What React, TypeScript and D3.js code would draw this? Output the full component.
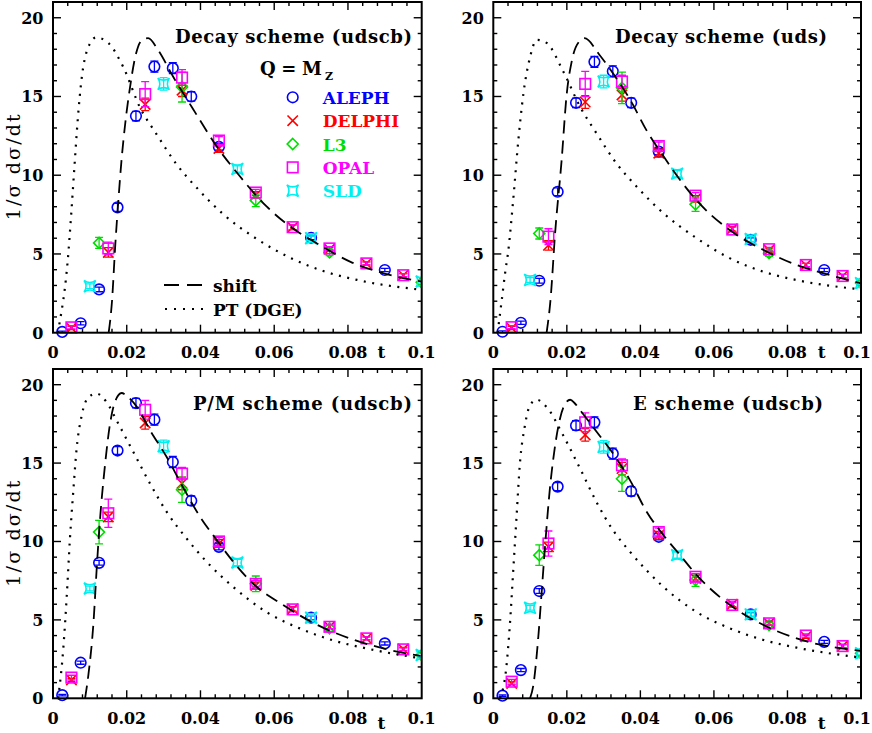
import React from "react";
import * as d3 from "d3";

// ---------- data ----------
const EXPERIMENTS = ["ALEPH", "DELPHI", "L3", "OPAL", "SLD"];
const COLORS = ["#0000ff", "#ff0000", "#00dd00", "#ff00ff", "#00f0f0"];
const TITLES = ["Decay scheme (udscb)", "Decay scheme (uds)", "P/M scheme (udscb)", "E scheme (udscb)"];
const X_TICKS = [0, 0.02, 0.04, 0.06, 0.08, 0.1];
const X_TICK_LABELS = ["0", "0.02", "0.04", "0.06", "0.08", "0.1"];
const Y_TICKS = [0, 5, 10, 15, 20];
const Y_TICK_LABELS = ["0", "5", "10", "15", "20"];

const T_ALEPH = [0.0025, 0.0075, 0.0125, 0.0175, 0.0225, 0.0275, 0.0325, 0.0375, 0.045, 0.07, 0.09];
const T_DELPHI = [0.005, 0.015, 0.025, 0.035, 0.045, 0.055, 0.065, 0.075, 0.085, 0.095];
const T_L3 = [0.0125, 0.035, 0.055, 0.075, 0.1];
const T_OPAL = [0.005, 0.015, 0.025, 0.035, 0.045, 0.055, 0.065, 0.075, 0.085, 0.095];
const T_SLD = [0.01, 0.03, 0.05, 0.07, 0.1];

const ERR_ALEPH = [0.05, 0.1, 0.15, 0.25, 0.3, 0.35, 0.35, 0.3, 0.2, 0.12, 0.1];
const ERR_DELPHI = [0.1, 0.3, 0.4, 0.4, 0.25, 0.2, 0.15, 0.12, 0.1, 0.1];
const ERR_SLD = [0.15, 0.4, 0.2, 0.15, 0.1];

// Panel 1: Decay scheme (udscb)
const P1_ALEPH = [0.05, 0.6, 2.75, 7.96, 13.76, 16.9, 16.8, 15.0, 11.8, 6.03, 3.98];
const P1_DELPHI = [0.3, 5.1, 14.5, 15.4, 11.7, 8.75, 6.7, 5.3, 4.4, 3.65];
const P1_L3 = [5.7, 15.6, 8.4, 5.1, 3.2];
const P1_L3_ERR = [0.35, 0.95, 0.4, 0.2, 0.15];
const P1_OPAL = [0.34, 5.35, 15.15, 16.2, 12.2, 8.9, 6.7, 5.35, 4.4, 3.65];
const P1_OPAL_ERR = [0.1, 0.4, 0.8, 0.5, 0.25, 0.2, 0.15, 0.12, 0.1, 0.1];
const P1_SLD = [2.95, 15.8, 10.4, 6.0, 3.25];
const P1_PT = [[0.0013, 0], [0.0022, 1.2], [0.0031, 2.6], [0.004, 4.6], [0.0049, 7.4], [0.0058, 10.5], [0.0067, 13.5], [0.0078, 16.2], [0.0092, 17.9], [0.0117, 18.75], [0.015, 18.4], [0.019, 16.9], [0.0236, 14.3], [0.0281, 12.6], [0.0335, 10.7], [0.039, 9.2], [0.0463, 7.5], [0.0553, 5.95], [0.0644, 4.75], [0.0735, 3.9], [0.0825, 3.35], [0.1, 2.72]];
const P1_SHIFT = [[0.0151, 0], [0.016, 2.0], [0.0169, 5.6], [0.0177, 8.3], [0.0186, 11.0], [0.0196, 13.3], [0.0209, 15.6], [0.0222, 17.4], [0.024, 18.55], [0.0258, 18.7], [0.0285, 17.95], [0.0326, 16.25], [0.0376, 14.35], [0.0445, 11.8], [0.0508, 9.9], [0.058, 8.0], [0.0652, 6.6], [0.0716, 5.67], [0.0807, 4.5], [0.0897, 3.77], [0.1, 3.24]];

// Panel 2: Decay scheme (uds)
const P2_ALEPH = [0.06, 0.63, 3.3, 8.95, 14.6, 17.2, 16.6, 14.6, 11.5, 5.9, 3.98];
const P2_DELPHI = [0.3, 5.55, 14.65, 15.1, 11.4, 8.5, 6.6, 5.25, 4.3, 3.6];
const P2_L3 = [6.3, 15.55, 8.15, 5.05, 3.15];
const P2_L3_ERR = [0.35, 1.0, 0.45, 0.2, 0.15];
const P2_OPAL = [0.35, 6.1, 15.8, 15.95, 11.85, 8.7, 6.55, 5.3, 4.3, 3.6];
const P2_OPAL_ERR = [0.1, 0.5, 0.8, 0.4, 0.25, 0.2, 0.15, 0.12, 0.1, 0.1];
const P2_SLD = [3.35, 15.95, 10.1, 5.95, 3.15];
const P2_PT = [[0.0012, 0], [0.0014, 0.4], [0.0023, 2.07], [0.0032, 3.77], [0.0041, 5.25], [0.0054, 8.4], [0.0068, 12.2], [0.0082, 15.2], [0.01, 17.5], [0.0118, 18.6], [0.0145, 18.4], [0.019, 16.6], [0.0236, 14.35], [0.0281, 12.65], [0.0335, 10.75], [0.039, 9.27], [0.0463, 7.58], [0.0553, 6.0], [0.0644, 4.72], [0.0735, 3.87], [0.0825, 3.34], [0.1, 2.75]];
const P2_SHIFT = [[0.0145, 0], [0.0156, 2.2], [0.0168, 6.3], [0.0186, 11.0], [0.0199, 15.0], [0.0213, 17.2], [0.0236, 18.55], [0.0248, 18.7], [0.029, 17.6], [0.0335, 16.15], [0.0372, 14.8], [0.0418, 12.8], [0.0463, 11.2], [0.0508, 9.7], [0.0553, 8.4], [0.0644, 6.5], [0.0735, 5.25], [0.0825, 4.3], [0.0916, 3.66], [0.1, 3.13]];

// Panel 3: P/M scheme (udscb)
const P3_ALEPH = [0.2, 2.27, 8.64, 15.8, 18.83, 17.77, 15.07, 12.6, 9.66, 5.14, 3.5];
const P3_DELPHI = [1.17, 11.57, 17.56, 13.7, 9.87, 7.2, 5.7, 4.56, 3.82, 3.14];
const P3_L3 = [10.6, 13.3, 7.3, 4.46, 2.76];
const P3_L3_ERR = [0.75, 0.8, 0.5, 0.2, 0.15];
const P3_OPAL = [1.32, 11.8, 18.4, 14.33, 10.0, 7.3, 5.67, 4.56, 3.82, 3.12];
const P3_OPAL_ERR = [0.15, 0.9, 0.6, 0.4, 0.25, 0.2, 0.15, 0.12, 0.1, 0.1];
const P3_SLD = [7.0, 16.07, 8.66, 5.14, 2.76];
const P3_PT = [[0.0014, 0], [0.0028, 3.2], [0.0037, 6.4], [0.0046, 10.2], [0.0055, 13.2], [0.0064, 15.9], [0.0078, 18.05], [0.0096, 19.2], [0.0118, 19.43], [0.0145, 18.9], [0.0173, 17.7], [0.0218, 15.7], [0.0263, 13.7], [0.0308, 11.9], [0.0362, 10.2], [0.0417, 8.7], [0.0489, 7.1], [0.0579, 5.5], [0.0669, 4.46], [0.0759, 3.7], [0.085, 3.18], [0.0997, 2.55]];
const P3_SHIFT = [[0.0087, 0], [0.0096, 1.5], [0.011, 4.9], [0.0118, 8.07], [0.0127, 11.25], [0.0141, 14.86], [0.0154, 17.4], [0.0168, 18.9], [0.0186, 19.47], [0.0204, 19.2], [0.0227, 18.6], [0.0263, 17.1], [0.0308, 15.4], [0.0354, 13.4], [0.0399, 11.57], [0.0444, 10.1], [0.0489, 8.7], [0.0543, 7.3], [0.0624, 5.95], [0.0715, 4.7], [0.0805, 3.82], [0.0896, 3.18], [0.0997, 2.7]];

// Panel 4: E scheme (udscb)
const P4_ALEPH = [0.17, 1.8, 6.84, 13.5, 17.4, 17.6, 15.6, 13.2, 10.3, 5.35, 3.6];
const P4_DELPHI = [0.95, 9.66, 16.8, 14.65, 10.4, 7.64, 6.0, 4.78, 3.93, 3.33];
const P4_L3 = [9.13, 14.0, 7.54, 4.67, 2.87];
const P4_L3_ERR = [0.65, 0.8, 0.4, 0.2, 0.15];
const P4_OPAL = [1.06, 9.87, 17.6, 14.86, 10.6, 7.75, 5.95, 4.78, 4.0, 3.33];
const P4_OPAL_ERR = [0.15, 0.8, 0.6, 0.4, 0.25, 0.2, 0.15, 0.12, 0.1, 0.1];
const P4_SLD = [5.77, 16.03, 9.13, 5.35, 2.87];
const P4_PT = [[0.0018, 0], [0.0036, 2.1], [0.0045, 4.67], [0.0054, 8.07], [0.0063, 11.5], [0.0072, 14.86], [0.0086, 17.4], [0.01, 18.7], [0.0118, 19.04], [0.0145, 18.58], [0.019, 16.77], [0.0236, 14.65], [0.0281, 12.5], [0.0326, 10.7], [0.0372, 9.34], [0.0463, 7.1], [0.0553, 5.5], [0.0644, 4.46], [0.0735, 3.72], [0.0825, 3.23], [0.1, 2.6]];
const P4_SHIFT = [[0.01, 0], [0.0109, 0.85], [0.0122, 3.8], [0.0131, 6.6], [0.0141, 9.77], [0.0154, 13.4], [0.0168, 16.1], [0.0181, 17.8], [0.0199, 18.9], [0.0209, 19.04], [0.0222, 18.8], [0.024, 18.26], [0.0281, 17.0], [0.0326, 15.6], [0.0372, 13.9], [0.0417, 11.9], [0.0463, 10.4], [0.0508, 9.13], [0.0553, 7.86], [0.0644, 5.95], [0.0735, 4.67], [0.0825, 3.82], [0.1, 3.02]];

// ---------- drawing ----------
const FONT = "'DejaVu Serif', serif";

function Marker({ kind, cx, cy, color }: { kind: number; cx: number; cy: number; color: string }) {
  const sw = 1.6;
  if (kind === 0) return <circle cx={cx} cy={cy} r={5.3} fill="none" stroke={color} strokeWidth={sw} />;
  if (kind === 1) {
    const s = 5.2;
    return <path d={`M${cx - s},${cy - s}L${cx + s},${cy + s}M${cx - s},${cy + s}L${cx + s},${cy - s}`} stroke={color} strokeWidth={sw} fill="none" />;
  }
  if (kind === 2) {
    const s = 5.5;
    return <path d={`M${cx},${cy - s}L${cx + s},${cy}L${cx},${cy + s}L${cx - s},${cy}Z`} stroke={color} strokeWidth={sw} fill="none" />;
  }
  if (kind === 3) {
    const s = 5.3;
    return <rect x={cx - s} y={cy - s} width={2 * s} height={2 * s} stroke={color} strokeWidth={sw} fill="none" />;
  }
  const s = 5.8;
  const k = 0.3 * s;
  return (
    <path
      d={`M${cx - s},${cy - s}Q${cx},${cy - k} ${cx + s},${cy - s}Q${cx + k},${cy} ${cx + s},${cy + s}Q${cx},${cy + k} ${cx - s},${cy + s}Q${cx - k},${cy} ${cx - s},${cy - s}Z`}
      stroke={color}
      strokeWidth={sw}
      fill="none"
    />
  );
}

type SeriesSet = { t: number[]; v: number[]; e: number[] }[];

function Panel(props: {
  id: string;
  x0: number;
  x1: number;
  yTop: number;
  yBase: number;
  title: string;
  titleX: number;
  titleLen: number;
  series: SeriesSet;
  pt: number[][];
  shift: number[][];
  yLabel: boolean;
  legend: boolean;
  tDy: number;
}) {
  const { id, x0, x1, yTop, yBase } = props;
  const x = d3.scaleLinear().domain([0, 0.1]).range([x0, x1]);
  const y = d3.scaleLinear().domain([0, 21]).range([yBase, yTop]);
  const xMinor = d3.range(0, 0.1001, 0.004).filter((v) => v > 0.0005 && v < 0.0995);
  const yMinor = d3.range(1, 21, 1);
  const line = d3
    .line<number[]>()
    .x((d) => x(d[0]))
    .y((d) => y(d[1]))
    .curve(d3.curveMonotoneX);
  const tickStroke = { stroke: "#000", strokeWidth: 1.4 };
  const ticks: JSX.Element[] = [];
  xMinor.forEach((v, i) => {
    const major = Math.abs(v / 0.02 - Math.round(v / 0.02)) < 1e-6;
    const L = major ? 8 : 4;
    ticks.push(<line key={`xb${i}`} x1={x(v)} x2={x(v)} y1={yBase} y2={yBase - L} {...tickStroke} />);
    ticks.push(<line key={`xt${i}`} x1={x(v)} x2={x(v)} y1={yTop} y2={yTop + L} {...tickStroke} />);
  });
  yMinor.forEach((v, i) => {
    const L = v % 5 === 0 ? 8 : 4;
    ticks.push(<line key={`yl${i}`} x1={x0} x2={x0 + L} y1={y(v)} y2={y(v)} {...tickStroke} />);
    ticks.push(<line key={`yr${i}`} x1={x1} x2={x1 - L} y1={y(v)} y2={y(v)} {...tickStroke} />);
  });

  return (
    <g>
      <defs>
        <clipPath id={`clip-${id}`}>
          <rect x={x0 - 20} y={yTop - 20} width={x1 - x0 + 20} height={yBase - yTop + 40} />
        </clipPath>
        <clipPath id={`clipc-${id}`}>
          <rect x={x0} y={yTop} width={x1 - x0} height={yBase - yTop} />
        </clipPath>
      </defs>
      {ticks}
      <g clipPath={`url(#clip-${id})`}>
        {props.series.map((s, k) =>
          s.t.map((t, i) => {
            const cx = x(t);
            const cy = y(s.v[i]);
            const lo = y(s.v[i] - s.e[i]);
            const hi = y(s.v[i] + s.e[i]);
            const c = COLORS[k];
            return (
              <g key={`${k}-${i}`}>
                <path
                  d={`M${cx},${lo}L${cx},${hi}M${cx - 4},${lo}L${cx + 4},${lo}M${cx - 4},${hi}L${cx + 4},${hi}`}
                  stroke={c}
                  strokeWidth={1.3}
                  fill="none"
                />
                <Marker kind={k} cx={cx} cy={cy} color={c} />
              </g>
            );
          })
        )}
      </g>
      <g clipPath={`url(#clipc-${id})`} fill="none" stroke="#000">
        <path d={line(props.shift) || ""} strokeDasharray="13,7" strokeWidth={1.8} />
        <path d={line(props.pt) || ""} strokeDasharray="2,6.5" strokeWidth={2.2} />
      </g>
      <rect x={x0} y={yTop} width={x1 - x0} height={yBase - yTop} fill="none" stroke="#000" strokeWidth={2} />
      <g fontFamily={FONT} fontSize={16} fontWeight="bold" fill="#000">
        {Y_TICKS.map((v, i) => (
          <text key={`yt${i}`} x={x0 - 9.5} y={y(v) + 6} textAnchor="end">
            {Y_TICK_LABELS[i]}
          </text>
        ))}
        {X_TICKS.map((v, i) => (
          <text
            key={`xt${i}`}
            x={i === X_TICKS.length - 1 && x1 > 800 ? 871 : x(v)}
            y={yBase + 25.5}
            textAnchor={i === X_TICKS.length - 1 && x1 > 800 ? "end" : "middle"}
          >
            {X_TICK_LABELS[i]}
          </text>
        ))}
        <text x={x0 + 328.5} y={yBase + 25.5 + props.tDy} textAnchor="middle" fontSize={17}>
          t
        </text>
      </g>
      <text
        x={props.titleX}
        y={yTop + 40.5}
        fontFamily={FONT}
        fontSize={18}
        fontWeight="bold"
        textLength={props.titleLen}
        lengthAdjust="spacing"
      >
        {props.title}
      </text>
      {props.yLabel && (
        <text
          transform={`translate(19.5,${(yTop + yBase) / 2}) rotate(-90)`}
          textAnchor="middle"
          fontFamily={FONT}
          fontSize={19}
          textLength={106}
          lengthAdjust="spacing"
        >
          1/σ dσ/dt
        </text>
      )}
      {props.legend && (
        <g fontFamily={FONT} fontSize={17} fontWeight="bold">
          <text x={260} y={75} fontSize={18} textLength={62} lengthAdjust="spacing">
            Q = M
          </text>
          <text x={325} y={80} fontSize={11}>
            Z
          </text>
          {EXPERIMENTS.map((name, k) => {
            const ry = 97.3 + k * 23.35;
            return (
              <g key={name}>
                <Marker kind={k} cx={292.7} cy={ry} color={COLORS[k]} />
                <text x={322.7} y={ry + 6.5} fill={COLORS[k]}>
                  {name}
                </text>
              </g>
            );
          })}
          <line x1={164} x2={203} y1={285} y2={285} stroke="#000" strokeWidth={1.8} strokeDasharray="15,8" />
          <text x={213} y={292}>shift</text>
          <line x1={165} x2={203} y1={309} y2={309} stroke="#000" strokeWidth={2.2} strokeDasharray="2,7" />
          <text x={213} y={316}>PT (DGE)</text>
        </g>
      )}
    </g>
  );
}

function mk(a: number[], d: number[], l: number[], le: number[], o: number[], oe: number[], s: number[]): SeriesSet {
  return [
    { t: T_ALEPH, v: a, e: ERR_ALEPH },
    { t: T_DELPHI, v: d, e: ERR_DELPHI },
    { t: T_L3, v: l, e: le },
    { t: T_OPAL, v: o, e: oe },
    { t: T_SLD, v: s, e: ERR_SLD },
  ];
}

export default function App() {
  return (
    <svg width={872} height={733} style={{ position: "absolute", left: 0, top: 0, background: "#fff" }}>
      <rect width={872} height={733} fill="#fff" />
      <Panel
        id="p1"
        x0={53}
        x1={421.7}
        yTop={2}
        yBase={332.7}
        title={TITLES[0]}
        titleX={175}
        titleLen={237}
        series={mk(P1_ALEPH, P1_DELPHI, P1_L3, P1_L3_ERR, P1_OPAL, P1_OPAL_ERR, P1_SLD)}
        pt={P1_PT}
        shift={P1_SHIFT}
        yLabel={true}
        legend={true}
        tDy={0}
      />
      <Panel
        id="p2"
        x0={493.3}
        x1={861}
        yTop={2}
        yBase={332.7}
        title={TITLES[1]}
        titleX={615}
        titleLen={212}
        series={mk(P2_ALEPH, P2_DELPHI, P2_L3, P2_L3_ERR, P2_OPAL, P2_OPAL_ERR, P2_SLD)}
        pt={P2_PT}
        shift={P2_SHIFT}
        yLabel={false}
        legend={false}
        tDy={0}
      />
      <Panel
        id="p3"
        x0={53}
        x1={421.7}
        yTop={369}
        yBase={698.3}
        title={TITLES[2]}
        titleX={193}
        titleLen={219}
        series={mk(P3_ALEPH, P3_DELPHI, P3_L3, P3_L3_ERR, P3_OPAL, P3_OPAL_ERR, P3_SLD)}
        pt={P3_PT}
        shift={P3_SHIFT}
        yLabel={true}
        legend={false}
        tDy={5}
      />
      <Panel
        id="p4"
        x0={493.3}
        x1={861}
        yTop={369}
        yBase={698.3}
        title={TITLES[3]}
        titleX={633}
        titleLen={190}
        series={mk(P4_ALEPH, P4_DELPHI, P4_L3, P4_L3_ERR, P4_OPAL, P4_OPAL_ERR, P4_SLD)}
        pt={P4_PT}
        shift={P4_SHIFT}
        yLabel={false}
        legend={false}
        tDy={5}
      />
    </svg>
  );
}
